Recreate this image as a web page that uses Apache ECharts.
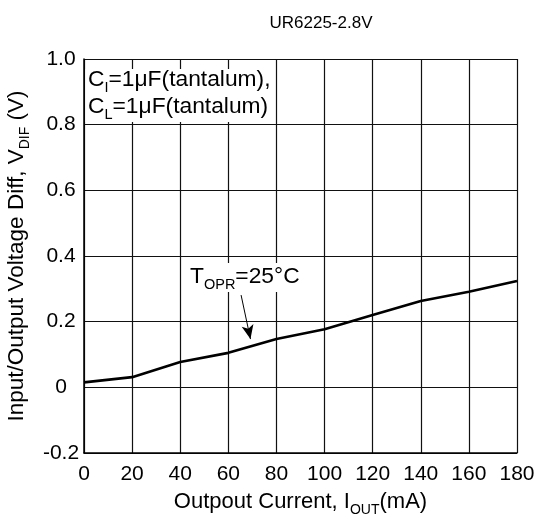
<!DOCTYPE html>
<html>
<head>
<meta charset="utf-8">
<script src="https://cdn.jsdelivr.net/npm/echarts@6/dist/echarts.min.js"></script>
<style>html,body{margin:0;padding:0;background:#fff}#c{width:541px;height:521px}</style>
</head>
<body>
<div id="c"></div>
<script>
var currents = [0, 20, 40, 60, 80, 100, 120, 140, 160, 180];
var vdif = [0.015, 0.031, 0.077, 0.105, 0.147, 0.177, 0.220, 0.263, 0.291, 0.324];
var xTicks = [0, 20, 40, 60, 80, 100, 120, 140, 160, 180];
var yTicks = ['-0.2', '0', '0.2', '0.4', '0.6', '0.8', '1.0'];
var arrowFrom = [65.3, 0.281];
var arrowTo = [69.2, 0.147];

var FONT = 'Liberation Sans, Arial, sans-serif';
var chart = echarts.init(document.getElementById('c'));
var sub = {fontSize: 14, fontFamily: FONT, color: '#000', verticalAlign: 'bottom', padding: [0, 0, -4, 0]};
var main = {fontSize: 22, fontFamily: FONT, color: '#000'};
var ann = {fontSize: 22.8, fontFamily: FONT, color: '#000'};
var annSub = {fontSize: 14.5, fontFamily: FONT, color: '#000', verticalAlign: 'bottom', padding: [0, 0, -4, 0]};
var yMain = {fontSize: 22.5, fontFamily: FONT, color: '#000'};

chart.setOption({
  animation: false,
  backgroundColor: '#fff',
  title: {
    text: 'UR6225-2.8V', left: 316, top: 10, textAlign: 'center',
    textStyle: {fontSize: 17, fontWeight: 'normal', fontFamily: FONT, color: '#000'}
  },
  grid: {left: 84, right: 24, top: 59, bottom: 68, containLabel: false, outerBoundsMode: 'none'},
  xAxis: {
    type: 'value', min: 0, max: 180, interval: 20,
    name: '{a|Outpout Current, I}{s|OUT}{a|(mA)}',
    nameLocation: 'middle', nameGap: 38,
    nameTextStyle: {rich: {a: main, s: sub}},
    axisLine: {show: true, onZero: false, lineStyle: {color: '#000', width: 1.5}},
    axisTick: {show: false},
    axisLabel: {fontSize: 21, fontFamily: FONT, color: '#000', margin: 11,
      formatter: function (v) { return xTicks.indexOf(v) >= 0 ? String(v) : ''; }},
    splitLine: {show: true, lineStyle: {color: '#111', width: 1.2}}
  },
  yAxis: {
    type: 'value', min: -0.2, max: 1.0, interval: 0.2,
    name: '{a|Input/Output Voltage Diff, V}{s|DIF}{a| (V)}',
    nameLocation: 'middle', nameGap: 52, nameRotate: 90,
    nameTextStyle: {rich: {a: yMain, s: sub}},
    axisLine: {show: true, onZero: false, lineStyle: {color: '#000', width: 1.5}},
    axisTick: {show: false},
    axisLabel: {fontSize: 21, fontFamily: FONT, color: '#000', margin: 23, align: 'center',
      formatter: function (v) { var i = Math.round((v + 0.2) / 0.2); return yTicks[i] || ''; }},
    splitLine: {show: true, lineStyle: {color: '#111', width: 1.2}}
  },
  graphic: [
    {type: 'rect', shape: {x: 85.5, y: 69, width: 189, height: 53}, style: {fill: '#fff'}, z: 50},
    {type: 'text', left: 88, top: 68, z: 51,
      style: {text: '{a|C}{s|I}{a|=1μF(tantalum),}', rich: {a: ann, s: annSub}}},
    {type: 'text', left: 88, top: 95, z: 51,
      style: {text: '{a|C}{s|L}{a|=1μF(tantalum)}', rich: {a: ann, s: annSub}}},
    {type: 'rect', shape: {x: 187, y: 263, width: 119, height: 29}, style: {fill: '#fff'}, z: 50},
    {type: 'text', left: 190, top: 265, z: 51,
      style: {text: '{a|T}{s|OPR}{a|=25°C}', rich: {a: ann, s: annSub}}}
  ],
  series: [{
    type: 'line',
    data: currents.map(function (c, i) { return [c, vdif[i]]; }),
    showSymbol: false,
    lineStyle: {color: '#000', width: 2.6},
    z: 10,
    markLine: {
      silent: true,
      symbol: ['none', 'arrow'],
      symbolSize: [9, 14],
      label: {show: false},
      lineStyle: {color: '#000', width: 1, type: 'solid'},
      data: [[{coord: arrowFrom}, {coord: arrowTo}]]
    }
  }]
});
</script>
</body>
</html>
